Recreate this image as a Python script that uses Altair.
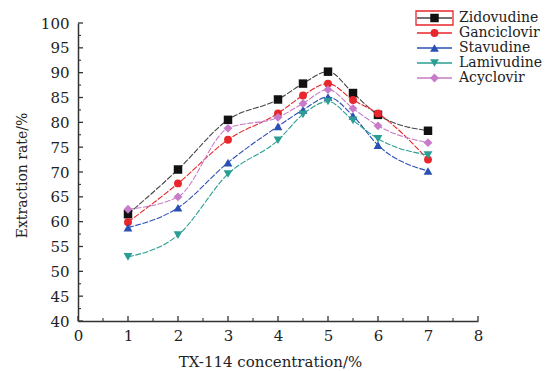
import altair as alt
import pandas as pd

# ---- data ----
conc = [1, 2, 3, 4, 4.5, 5, 5.5, 6, 7]
series_names = ["Zidovudine", "Ganciclovir", "Stavudine", "Lamivudine", "Acyclovir"]
zidovudine = [61.5, 70.5, 80.5, 84.6, 87.8, 90.2, 85.9, 81.5, 78.3]
ganciclovir = [59.9, 67.7, 76.5, 81.8, 85.4, 87.8, 84.5, 81.8, 72.5]
stavudine = [58.8, 62.8, 71.9, 79.2, 82.5, 85.1, 81.3, 75.4, 70.2]
lamivudine = [52.9, 57.3, 69.6, 76.4, 81.6, 84.2, 80.4, 76.7, 73.4]
acyclovir = [62.5, 65.0, 78.8, 81.0, 83.8, 86.6, 82.8, 79.3, 75.9]
y_ticks = [40, 45, 50, 55, 60, 65, 70, 75, 80, 85, 90, 95, 100]
x_ticks = [0, 1, 2, 3, 4, 5, 6, 7, 8]

colors = ["#111111", "#e8262b", "#2b50b4", "#2a9e94", "#c77bc9"]
line_colors = ["#444444", "#e8262b", "#2b50b4", "#2a9e94", "#c77bc9"]
shapes = ["square", "circle", "triangle-up", "triangle-down", "diamond"]
sizes = [72, 62, 78, 78, 78]

all_vals = [zidovudine, ganciclovir, stavudine, lamivudine, acyclovir]

FONT = "DejaVu Serif"
W, H = 400, 298
xs = alt.Scale(domain=[0, 8], nice=False, zero=False)
ys = alt.Scale(domain=[40, 100], nice=False, zero=False)
TXT = "#222222"

# axes (labels + domain; ticks drawn inward below)
x_axis = alt.Axis(
    values=x_ticks, format="d", tickSize=0, labelPadding=7, domainColor="#333333",
    domainWidth=1.5, grid=False, labelFont=FONT, labelFontSize=15, labelColor=TXT,
    labelOverlap=False, labelFlush=False,
    title="TX-114 concentration/%", titleFont=FONT, titleFontSize=15,
    titleFontWeight="normal", titleColor=TXT, titleX=192, titleY=40,
    titleBaseline="middle", titleAnchor="middle")
y_axis = alt.Axis(
    values=y_ticks, format="d", tickSize=0, labelPadding=9, domainColor="#333333",
    domainWidth=1.5, grid=False, labelFont=FONT, labelFontSize=15, labelColor=TXT,
    labelOverlap=False, labelFlush=False,
    title="Extraction rate/%", titleFont=FONT, titleFontSize=14,
    titleFontWeight="normal", titleColor=TXT, titleX=-56, titleY=152,
    titleAngle=-90, titleBaseline="middle", titleAnchor="middle")


def X(field="x"):
    return alt.X(f"{field}:Q", scale=xs, axis=x_axis)


def Y(field="y"):
    return alt.Y(f"{field}:Q", scale=ys, axis=y_axis)


# inward ticks
ymaj = pd.DataFrame({"y": y_ticks})
ymin = pd.DataFrame({"y": [v + 2.5 for v in y_ticks[:-1]]})
xmaj = pd.DataFrame({"x": x_ticks})
xmin = pd.DataFrame({"x": [v + 0.5 for v in x_ticks[:-1]]})
tick_col = "#333333"
ytm = alt.Chart(ymaj).mark_rule(color=tick_col, strokeWidth=1.3).encode(
    y=Y(), x=alt.value(0), x2=alt.value(5))
ytn = alt.Chart(ymin).mark_rule(color=tick_col, strokeWidth=1.1).encode(
    y=Y(), x=alt.value(0), x2=alt.value(3))
xtm = alt.Chart(xmaj).mark_rule(color=tick_col, strokeWidth=1.3).encode(
    x=X(), y=alt.value(H), y2=alt.value(H - 5))
xtn = alt.Chart(xmin).mark_rule(color=tick_col, strokeWidth=1.1).encode(
    x=X(), y=alt.value(H), y2=alt.value(H - 3))

layers = []
for i, (name, vals) in enumerate(zip(series_names, all_vals)):
    df = pd.DataFrame({"x": conc, "y": vals, "series": name})
    base = alt.Chart(df)
    line = base.mark_line(
        interpolate="monotone", strokeWidth=1.1, color=line_colors[i], strokeDash=[6, 1.5]
    ).encode(x=X(), y=Y())
    pts = base.mark_point(
        shape=shapes[i], filled=True, size=sizes[i], color=colors[i], opacity=1
    ).encode(x=X(), y=Y())
    layers += [line, pts]

# legend (manual, top right)
leg_layers = []
for i, name in enumerate(series_names):
    d = pd.DataFrame({"series": [name]})
    ry = -5 + 15 * i
    c = alt.Chart(d)
    leg_layers.append(c.mark_rule(color=line_colors[i], strokeWidth=1.3).encode(
        y=alt.value(ry), x=alt.value(339), x2=alt.value(374)))
    leg_layers.append(c.mark_point(shape=shapes[i], filled=True, size=sizes[i],
                                   color=colors[i], opacity=1).encode(
        y=alt.value(ry), x=alt.value(356.5)))
    leg_layers.append(c.mark_text(align="left", baseline="middle", font=FONT,
                                  fontSize=14, color=TXT).encode(
        y=alt.value(ry), x=alt.value(381), text="series:N"))

box = alt.Chart(pd.DataFrame({"a": [0]})).mark_rect(
    fill=None, stroke="#e8262b", strokeWidth=1.3
).encode(x=alt.value(338), x2=alt.value(375), y=alt.value(-12), y2=alt.value(2))

chart = alt.layer(
    ytm, ytn, xtm, xtn, *layers, *leg_layers, box
).properties(
    width=W, height=H,
    autosize=alt.AutoSizeParams(type="none"),
    padding={"left": 78, "top": 23, "right": 73, "bottom": 50},
    background="white",
).configure_view(stroke=None)

chart.save("out.html", embed_options={"renderer": "svg", "actions": False})
